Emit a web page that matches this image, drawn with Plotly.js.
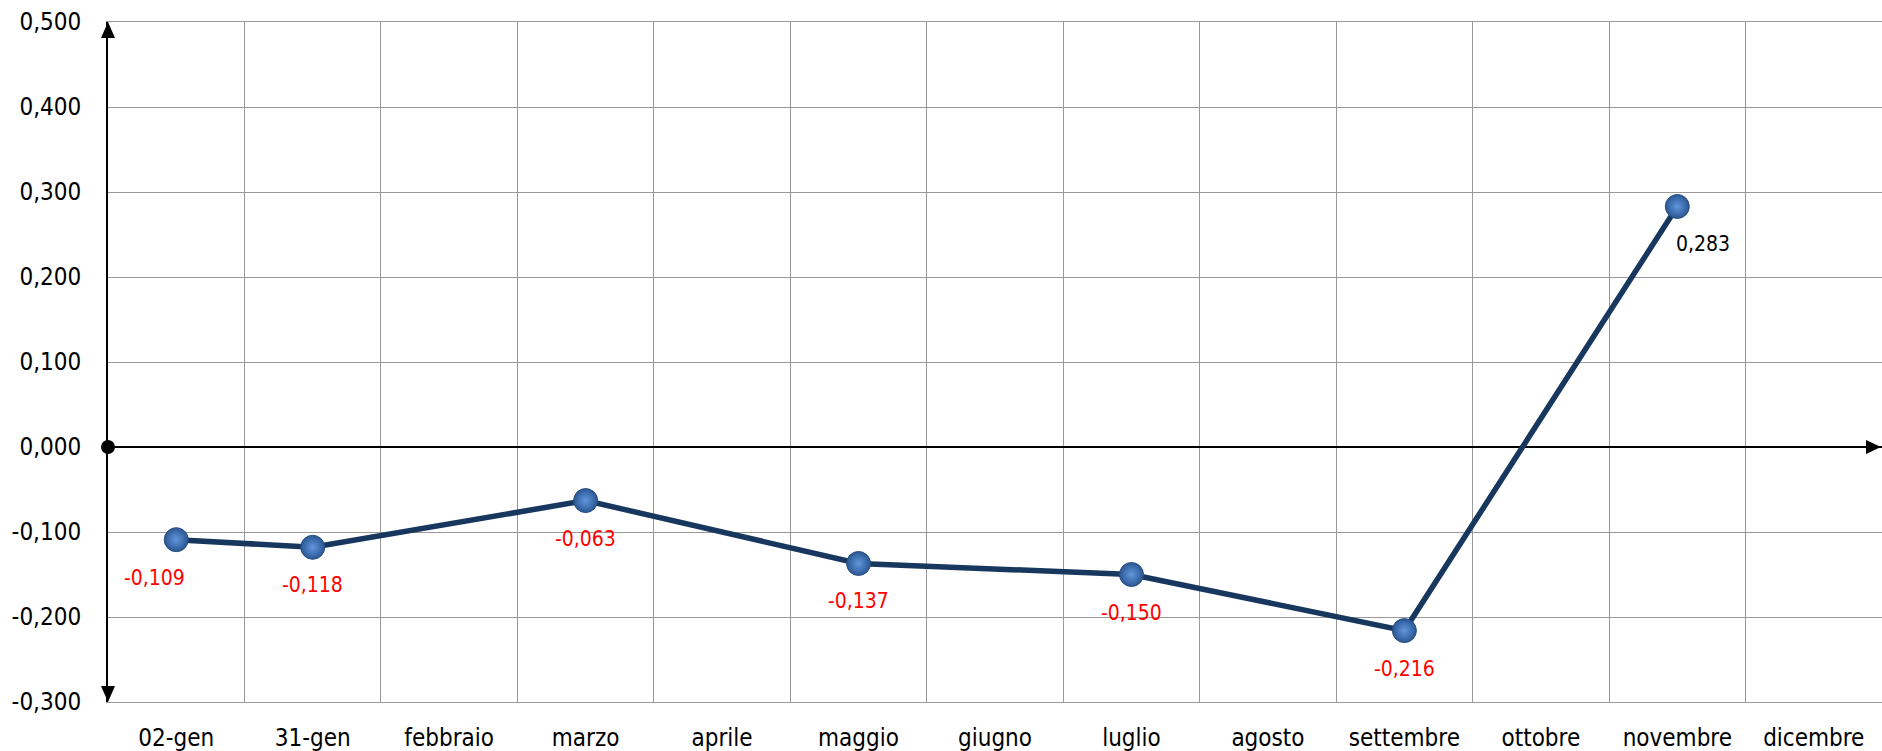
<!DOCTYPE html>
<html>
<head>
<meta charset="utf-8">
<script src="https://cdn.plot.ly/plotly-3.0.1.min.js"></script>
<style>
  html, body { margin: 0; padding: 0; background: #ffffff; }
  #chart { width: 1882px; height: 751px; }
</style>
</head>
<body>
<div id="chart"></div>
<script>
// ---- data ----
const categories = ["02-gen", "31-gen", "febbraio", "marzo", "aprile", "maggio", "giugno",
                    "luglio", "agosto", "settembre", "ottobre", "novembre", "dicembre"];
const pointCategories = ["02-gen", "31-gen", "marzo", "maggio", "luglio", "settembre", "novembre"];
const pointValues = [-0.109, -0.118, -0.063, -0.137, -0.150, -0.216, 0.283];
const yTickValues = [-0.3, -0.2, -0.1, 0, 0.1, 0.2, 0.3, 0.4, 0.5];
const yTickLabels = ["-0,300", "-0,200", "-0,100", "0,000", "0,100", "0,200", "0,300", "0,400", "0,500"];

// ---- styling ----
const FONT = "'DejaVu Sans Condensed', 'DejaVu Sans', 'Liberation Sans', sans-serif";
// label pixel shifts (style only)
const labelShiftX = [-22, 0, 0, 0, 0, 0, 26];
const labelShiftY = -38;

const trace = {
  type: "scatter",
  mode: "lines+markers",
  x: pointCategories,
  y: pointValues,
  line: { color: "#17375e", width: 5.5 },
  marker: {
    size: 24,
    color: "#2a5794",
    gradient: { type: "radial", color: "#6196dc" },
    line: { color: "#2a4d7c", width: 1 }
  },
  hoverinfo: "x+y",
  showlegend: false
};

const annotations = pointValues.map((v, i) => ({
  x: pointCategories[i],
  y: v,
  xref: "x",
  yref: "y",
  text: v.toFixed(3).replace(".", ","),
  showarrow: false,
  xshift: labelShiftX[i],
  yshift: labelShiftY,
  font: { family: FONT, size: 21, color: v < 0 ? "#ff0000" : "#000000" }
}));

const shapes = [
  // top arrowhead of y axis
  { type: "path", xref: "paper", yref: "paper", xsizemode: "pixel", ysizemode: "pixel",
    xanchor: 0, yanchor: 1, path: "M -7,-16 L 7,-16 L 0,0 Z",
    fillcolor: "#000000", line: { width: 0 } },
  // bottom arrowhead of y axis
  { type: "path", xref: "paper", yref: "paper", xsizemode: "pixel", ysizemode: "pixel",
    xanchor: 0, yanchor: 0, path: "M -7,16 L 7,16 L 0,0 Z",
    fillcolor: "#000000", line: { width: 0 } },
  // right arrowhead of zero line
  { type: "path", xref: "paper", yref: "y", xsizemode: "pixel", ysizemode: "pixel",
    xanchor: 1, yanchor: 0, path: "M -16,-7 L -16,7 L -1,0 Z",
    fillcolor: "#000000", line: { width: 0 } },
  // origin dot
  { type: "circle", xref: "paper", yref: "y", xsizemode: "pixel", ysizemode: "pixel",
    xanchor: 0, yanchor: 0, x0: -7, x1: 7, y0: -7, y1: 7,
    fillcolor: "#000000", line: { width: 0 } }
];

const layout = {
  width: 1882,
  height: 751,
  margin: { l: 108, r: 0, t: 22, b: 49 },
  paper_bgcolor: "#ffffff",
  plot_bgcolor: "#ffffff",
  font: { family: FONT, size: 24, color: "#000000" },
  xaxis: {
    type: "category",
    categoryorder: "array",
    categoryarray: categories,
    tickvals: categories,
    ticktext: categories,
    range: [-0.5, categories.length - 0.5],
    tickson: "boundaries",
    ticks: "",
    showgrid: true,
    gridcolor: "#999999",
    gridwidth: 1,
    showline: true,
    linecolor: "#999999",
    linewidth: 1,
    mirror: true,
    zeroline: false,
    ticklabelstandoff: 14,
    tickfont: { family: FONT, size: 24, color: "#000000" },
    fixedrange: true
  },
  yaxis: {
    range: [-0.3, 0.5],
    tickmode: "array",
    tickvals: yTickValues,
    ticktext: yTickLabels,
    ticks: "",
    showgrid: true,
    gridcolor: "#999999",
    gridwidth: 1,
    showline: true,
    linecolor: "#000000",
    linewidth: 2,
    zeroline: true,
    zerolinecolor: "#000000",
    zerolinewidth: 1.5,
    ticklabelstandoff: 20,
    tickfont: { family: FONT, size: 24, color: "#000000" },
    fixedrange: true
  },
  shapes: shapes,
  annotations: annotations,
  showlegend: false
};

Plotly.newPlot("chart", [trace], layout, { displayModeBar: false, staticPlot: true });
</script>
</body>
</html>
